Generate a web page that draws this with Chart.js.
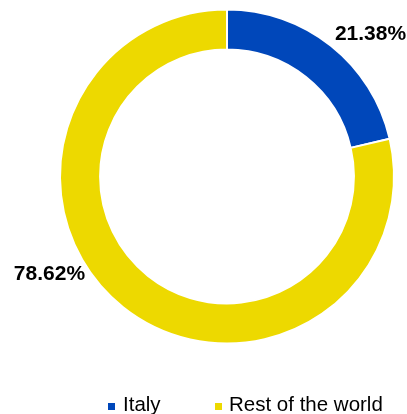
<!DOCTYPE html>
<html>
<head>
<meta charset="utf-8">
<script src="https://cdn.jsdelivr.net/npm/chart.js@4/dist/chart.umd.min.js"></script>
<style>
html,body{margin:0;padding:0;background:#fff;}
#wrap{width:407px;height:414px;position:relative;}
</style>
</head>
<body>
<div id="wrap"><canvas id="c" width="407" height="414"></canvas></div>
<script>
const categories = ["Italy", "Rest of the world"];
const values = [21.38, 78.62];
const valueLabels = ["21.38%", "78.62%"];
const colors = ["#0047BA", "#EDD900"];

const labelOffsets = [[4, -6, 'left'], [-38, -27, 'right']];

const labelPlugin = {
  id: 'sliceLabels',
  afterDatasetsDraw(chart) {
    const ctx = chart.ctx;
    const meta = chart.getDatasetMeta(0);
    ctx.save();
    ctx.font = 'bold 21px "Liberation Sans", Arial, sans-serif';
    ctx.fillStyle = '#000';
    ctx.textBaseline = 'alphabetic';
    meta.data.forEach((arc, i) => {
      const p = arc.getProps(['x','y','startAngle','endAngle','outerRadius'], true);
      const mid = (p.startAngle + p.endAngle) / 2;
      const ax = p.x + Math.cos(mid) * p.outerRadius;
      const ay = p.y + Math.sin(mid) * p.outerRadius;
      const o = labelOffsets[i];
      ctx.textAlign = o[2];
      ctx.fillText(valueLabels[i], ax + o[0], ay + o[1]);
    });
    ctx.restore();
  }
};

const legendPlugin = {
  id: 'customLegend',
  afterDraw(chart) {
    const ctx = chart.ctx;
    const items = [{mx: 108, tx: 123}, {mx: 215, tx: 229}];
    ctx.save();
    ctx.font = '20.5px "Liberation Sans", Arial, sans-serif';
    ctx.textBaseline = 'alphabetic';
    ctx.textAlign = 'left';
    categories.forEach((c, i) => {
      ctx.fillStyle = colors[i];
      ctx.fillRect(items[i].mx, 403, 7, 7);
      ctx.fillStyle = '#000';
      ctx.fillText(c, items[i].tx, 411);
    });
    ctx.restore();
  }
};

new Chart(document.getElementById('c'), {
  type: 'doughnut',
  data: {
    labels: categories,
    datasets: [{
      data: values,
      backgroundColor: colors,
      borderColor: '#ffffff',
      borderWidth: 2,
      hoverOffset: 0
    }]
  },
  options: {
    responsive: false,
    animation: false,
    cutout: '76%',
    layout: { padding: { left: 59, right: 12, top: 8, bottom: 69 } },
    plugins: {
      legend: { display: false },
      tooltip: { enabled: false }
    }
  },
  plugins: [labelPlugin, legendPlugin]
});
</script>
</body>
</html>
